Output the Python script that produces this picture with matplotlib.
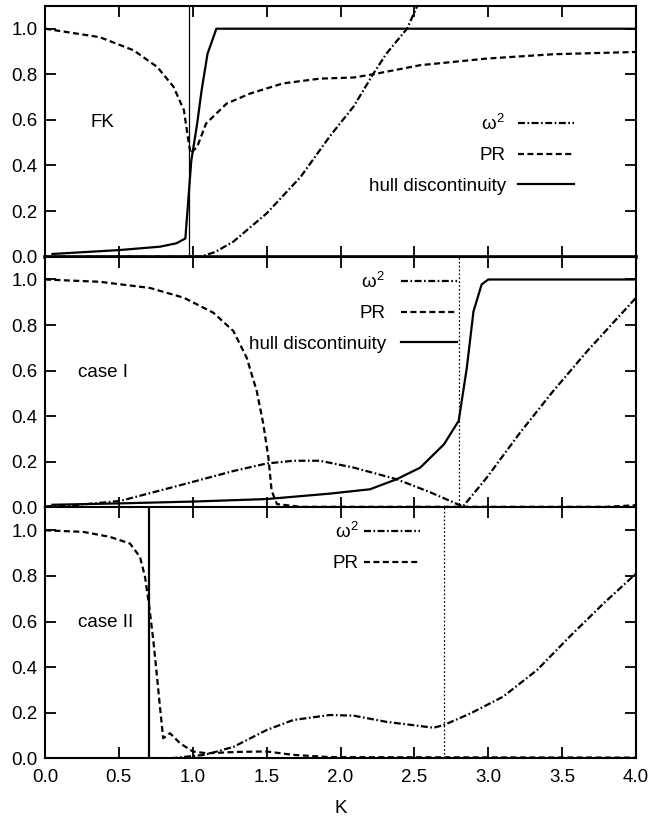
import matplotlib
matplotlib.use('Agg')
import matplotlib.pyplot as plt

plt.rcParams['font.family'] = ['Liberation Sans', 'DejaVu Sans']
plt.rcParams['font.size'] = 13.5
plt.rcParams['mathtext.fontset'] = 'custom'
plt.rcParams['mathtext.rm'] = 'Liberation Sans'
plt.rcParams['mathtext.it'] = 'Liberation Sans'
plt.rcParams['lines.scale_dashes'] = False

W2 = r'$\omega^2$'

# FK model
k_fk_pr = [0, 0.15, 0.37, 0.6, 0.76, 0.87, 0.94, 0.97, 0.985, 1.03, 1.09, 1.23,
           1.39, 1.61, 1.86, 2.09, 2.22, 2.54, 2.99, 3.44, 4.0]
pr_fk = [1.0, 0.985, 0.963, 0.905, 0.832, 0.745, 0.643, 0.511, 0.453, 0.482, 0.584,
         0.672, 0.716, 0.760, 0.781, 0.786, 0.80, 0.84, 0.869, 0.888, 0.898]
k_fk_w2 = [0, 1.05, 1.15, 1.275, 1.5, 1.73, 1.93, 2.09, 2.22, 2.31, 2.45, 2.52]
w2_fk = [0, 0, 0.02, 0.066, 0.19, 0.35, 0.53, 0.66, 0.80, 0.89, 1.0, 1.1]
k_fk_hull = [0.05, 0.5, 0.78, 0.89, 0.95, 0.97, 0.99, 1.03, 1.06, 1.10, 1.16, 4.0]
hull_fk = [0.012, 0.029, 0.044, 0.059, 0.08, 0.25, 0.42, 0.584, 0.73, 0.89, 1.0, 1.0]
k_fk_mark = 0.977

# case I
k_c1_pr = [0, 0.37, 0.71, 0.94, 1.14, 1.275, 1.365, 1.433, 1.478, 1.512, 1.534,
           1.57, 1.73, 3.8, 4.0]
pr_c1 = [1.0, 0.99, 0.963, 0.92, 0.854, 0.774, 0.657, 0.511, 0.365, 0.219, 0.073,
         0.015, 0.003, 0.003, 0.01]
k_c1_w2 = [0.0, 0.2, 0.51, 0.94, 1.275, 1.5, 1.68, 1.86, 2.09, 2.38, 2.61, 2.79,
           2.83, 2.99, 3.215, 3.44, 3.67, 4.0]
w2_c1 = [0.005, 0.01, 0.029, 0.102, 0.16, 0.193, 0.205, 0.205, 0.175, 0.124, 0.066,
         0.015, 0.005, 0.131, 0.328, 0.511, 0.686, 0.92]
k_c1_hull = [0.05, 0.5, 1.0, 1.5, 1.93, 2.2, 2.38, 2.54, 2.70, 2.80, 2.855, 2.90,
             2.955, 3.0, 4.0]
hull_c1 = [0.012, 0.018, 0.026, 0.037, 0.061, 0.08, 0.124, 0.175, 0.277, 0.38,
           0.613, 0.86, 0.978, 1.0, 1.0]
k_c1_mark = 2.80

# case II
k_c2_pr = [0, 0.26, 0.44, 0.575, 0.643, 0.677, 0.706, 0.733, 0.756, 0.778, 0.80,
           0.846, 0.914, 1.0, 1.094, 1.3, 1.5, 1.68, 1.93, 4.0]
pr_c2 = [1.0, 0.993, 0.971, 0.942, 0.883, 0.796, 0.664, 0.518, 0.372, 0.226, 0.088,
         0.11, 0.066, 0.03, 0.022, 0.028, 0.03, 0.015, 0.005, 0.003]
k_c2_w2 = [0.85, 1.0, 1.08, 1.275, 1.5, 1.68, 1.93, 2.09, 2.31, 2.63, 2.70, 2.88,
           3.10, 3.33, 3.55, 3.78, 4.0]
w2_c2 = [0.0, 0.01, 0.015, 0.05, 0.124, 0.168, 0.19, 0.187, 0.16, 0.134, 0.146,
         0.197, 0.27, 0.387, 0.533, 0.679, 0.81]
k_c2_hull = 0.706
k_c2_mark = 2.70

xticks = [0.0, 0.5, 1.0, 1.5, 2.0, 2.5, 3.0, 3.5, 4.0]
yticks = [0.0, 0.2, 0.4, 0.6, 0.8, 1.0]

DASH = (4.3, 2.5)
DASHDOT = (5.0, 1.8, 1.2, 1.8)
LW = 1.6

fig = plt.figure(figsize=(6.49, 8.18), dpi=100)
left, width = 45 / 649, 591 / 649
h = 250.8 / 818
bottom = 59.7 / 818
ax_fk = fig.add_axes([left, bottom + 2 * h, width, h])
ax_c1 = fig.add_axes([left, bottom + h, width, h])
ax_c2 = fig.add_axes([left, bottom, width, h])

for ax in (ax_fk, ax_c1, ax_c2):
    ax.set_xlim(0, 4.0)
    ax.set_ylim(0, 1.1)
    ax.set_xticks(xticks)
    ax.set_yticks(yticks)
    ax.set_yticklabels(['%.1f' % v for v in yticks])
    ax.tick_params(direction='in', length=8, width=1.3, top=True, right=True)
    ax.tick_params(axis='y', pad=5.5)
    for s in ax.spines.values():
        s.set_linewidth(1.5)

ax_fk.tick_params(labelbottom=False)
ax_c1.tick_params(labelbottom=False)
ax_c2.set_xticklabels(['%.1f' % v for v in xticks])
ax_c2.tick_params(axis='x', pad=8)
ax_c2.set_xlabel('K', labelpad=10)
ax_fk.spines['bottom'].set_linewidth(2.6)

leg_kw = dict(loc='center right', frameon=False, markerfirst=False,
              handlelength=3.0, labelspacing=0.72, borderpad=0, borderaxespad=0)

# FK panel
ax_fk.plot(k_fk_w2, w2_fk, color='black', lw=LW, dashes=DASHDOT, label=W2)
ax_fk.plot(k_fk_pr, pr_fk, color='black', lw=LW, dashes=DASH, label='PR')
ax_fk.plot(k_fk_hull, hull_fk, color='black', lw=LW, label='hull discontinuity')
ax_fk.axvline(k_fk_mark, color='black', lw=0.9)
ax_fk.text(0.39, 0.59, 'FK', ha='center', va='center')
ax_fk.legend(bbox_to_anchor=(0.895, 0.408), handletextpad=0.64, **leg_kw)

# case I panel
ax_c1.plot(k_c1_w2, w2_c1, color='black', lw=LW, dashes=DASHDOT, label=W2)
ax_c1.plot(k_c1_pr, pr_c1, color='black', lw=LW, dashes=DASH, label='PR')
ax_c1.plot(k_c1_hull, hull_c1, color='black', lw=LW, label='hull discontinuity')
ax_c1.axvline(k_c1_mark, color='black', lw=0.9, dashes=(1.2, 1.6))
ax_c1.text(0.39, 0.59, 'case I', ha='center', va='center')
ax_c1.legend(bbox_to_anchor=(0.697, 0.778), handletextpad=0.8, **leg_kw)

# case II panel
ax_c2.plot(k_c2_w2, w2_c2, color='black', lw=LW, dashes=DASHDOT, label=W2)
ax_c2.plot(k_c2_pr, pr_c2, color='black', lw=LW, dashes=DASH, label='PR')
ax_c2.axvline(k_c2_hull, color='black', lw=1.6)
ax_c2.axvline(k_c2_mark, color='black', lw=0.9, dashes=(1.2, 1.6))
ax_c2.text(0.41, 0.594, 'case II', ha='center', va='center')
ax_c2.legend(bbox_to_anchor=(0.635, 0.842), handletextpad=0.27, **leg_kw)

fig.savefig('out.png', dpi=100)
